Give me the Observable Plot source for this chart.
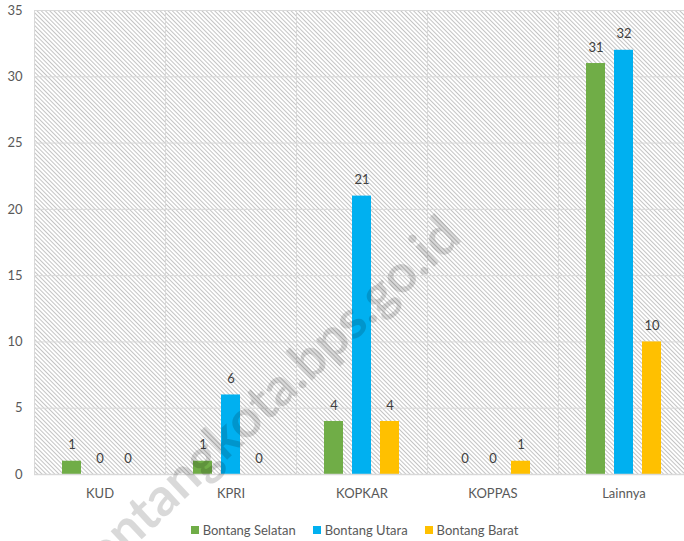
<!DOCTYPE html>
<html>
<head>
<meta charset="utf-8">
<script src="https://cdn.jsdelivr.net/npm/d3@7"></script>
<script src="https://cdn.jsdelivr.net/npm/@observablehq/plot@0.6"></script>
<style>
  html, body { margin: 0; padding: 0; background: #fff; overflow: hidden; width: 684px; height: 541px; }
  #wrap { position: relative; width: 684px; height: 541px; font-family: Lato, sans-serif; overflow: hidden; }
  #wrap svg { max-width: none !important; }
  #legend { position: absolute; left: 0; top: 521px; width: 709px; display: flex; justify-content: center; gap: 17px; font-size: 13px; color: #595959; line-height: 18px; }
  #legend .item { display: flex; align-items: center; }
  #legend .sw { width: 8px; height: 8px; margin-right: 4px; display: inline-block; }
  #wm { position: absolute; left: 259px; top: 402px; transform: translate(-50%, -50%) rotate(-43deg); font-family: Lato, sans-serif; font-weight: 700; font-size: 53px; color: rgba(0,0,0,0.15); white-space: nowrap; pointer-events: none; }
</style>
</head>
<body>
<div id="wrap"></div>
<script>
const categories = ["KUD", "KPRI", "KOPKAR", "KOPPAS", "Lainnya"];
const series = ["Bontang Selatan", "Bontang Utara", "Bontang Barat"];
const bontangSelatan = [1, 1, 4, 0, 31];
const bontangUtara = [0, 6, 21, 0, 32];
const bontangBarat = [0, 0, 4, 1, 10];
const seriesColors = ["#70AD47", "#00B0F0", "#FFC000"];
const yTicks = [0, 5, 10, 15, 20, 25, 30, 35];
const watermarkText = "bontangkota.bps.go.id";

const seriesValues = [bontangSelatan, bontangUtara, bontangBarat];
const data = [];
categories.forEach((c, i) => {
  series.forEach((s, j) => data.push({cat: c, series: s, value: seriesValues[j][i]}));
});

const plot = Plot.plot({
  width: 690,
  height: 510,
  marginTop: 10,
  marginBottom: 36,
  marginLeft: 34,
  marginRight: 1,
  style: {fontFamily: "Lato, sans-serif", fontSize: "13px", color: "#595959", background: "transparent", overflow: "visible", maxWidth: "none"},
  fx: {domain: categories, paddingInner: 0, paddingOuter: 0, label: null, axis: "bottom", tickSize: 0, tickPadding: 14},
  x: {domain: series, paddingInner: 0.31, paddingOuter: 0.914, axis: null},
  y: {domain: [0, 35], ticks: yTicks, tickSize: 0, tickPadding: 12, label: null},
  color: {domain: series, range: seriesColors},
  marks: [
    Plot.frame({fill: "url(#hatch)", stroke: "#d9d9d9", strokeWidth: 1}),
    Plot.gridY(yTicks, {stroke: "#d9d9d9", strokeOpacity: 1, strokeWidth: 1}),
    Plot.barY(data, {fx: "cat", x: "series", y: "value", fill: "series"}),
    Plot.text(data, {fx: "cat", x: "series", y: "value", text: d => String(d.value), dy: -16, fill: "#404040", fontSize: 13}),
    Plot.ruleY([0], {stroke: "#d9d9d9", strokeWidth: 1.5})
  ]
});

// hatch pattern definition
const ns = "http://www.w3.org/2000/svg";
const defs = document.createElementNS(ns, "defs");
const pat = document.createElementNS(ns, "pattern");
pat.setAttribute("id", "hatch");
pat.setAttribute("width", "3");
pat.setAttribute("height", "3");
pat.setAttribute("patternUnits", "userSpaceOnUse");
pat.setAttribute("patternTransform", "rotate(-45)");
const bg = document.createElementNS(ns, "rect");
bg.setAttribute("width", "3"); bg.setAttribute("height", "3"); bg.setAttribute("fill", "#ffffff");
const ln = document.createElementNS(ns, "line");
ln.setAttribute("x1", "0.5"); ln.setAttribute("y1", "0");
ln.setAttribute("x2", "0.5"); ln.setAttribute("y2", "3");
ln.setAttribute("stroke", "#c4c4c4"); ln.setAttribute("stroke-width", "1");
pat.appendChild(bg); pat.appendChild(ln);
defs.appendChild(pat);
plot.insertBefore(defs, plot.firstChild);

const wrap = document.getElementById("wrap");
wrap.appendChild(plot);

const legend = document.createElement("div");
legend.id = "legend";
series.forEach((s, j) => {
  const it = document.createElement("div");
  it.className = "item";
  const sw = document.createElement("span");
  sw.className = "sw";
  sw.style.background = seriesColors[j];
  const tx = document.createElement("span");
  tx.textContent = s;
  it.appendChild(sw); it.appendChild(tx);
  legend.appendChild(it);
});
wrap.appendChild(legend);

const wm = document.createElement("div");
wm.id = "wm";
wm.textContent = watermarkText;
wrap.appendChild(wm);
</script>
</body>
</html>
